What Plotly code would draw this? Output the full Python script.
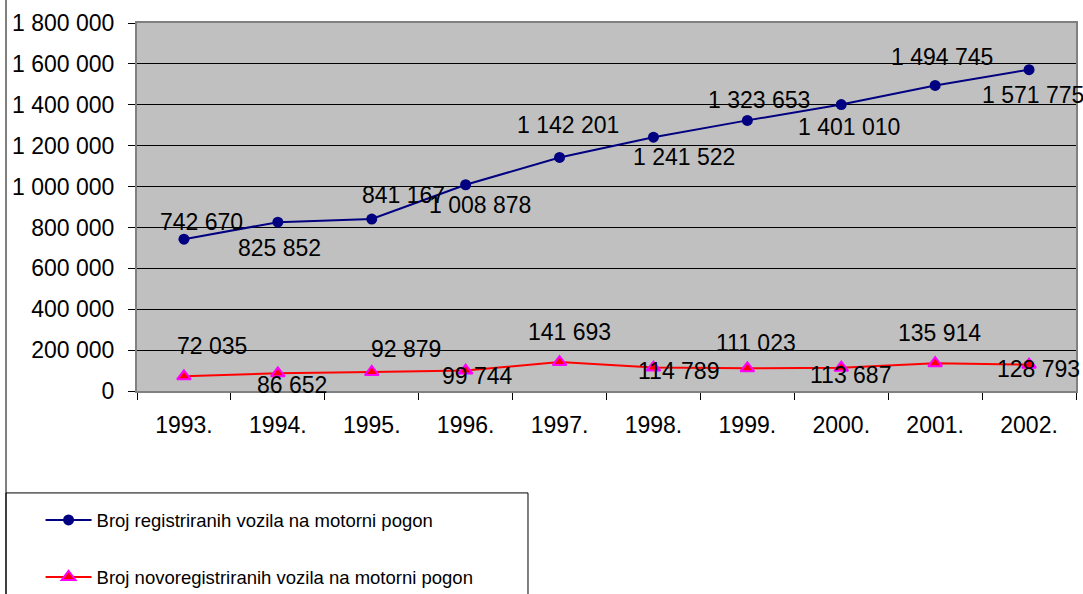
import plotly.graph_objects as go

years = ["1993.", "1994.", "1995.", "1996.", "1997.", "1998.", "1999.", "2000.", "2001.", "2002."]
registered = [742670, 825852, 841167, 1008878, 1142201, 1241522, 1323653, 1401010, 1494745, 1571775]
new_registered = [72035, 86652, 92879, 99744, 141693, 114789, 111023, 113687, 135914, 128793]
name_reg = "Broj registriranih vozila na motorni pogon"
name_new = "Broj novoregistriranih vozila na motorni pogon"
y_ticks = [0, 200000, 400000, 600000, 800000, 1000000, 1200000, 1400000, 1600000, 1800000]

def fmt(v):
    return f"{v:,}".replace(",", " ")

# label placement styles (above/below alternating) and small shifts
reg_shift = [(18, 17), (2, -26), (32, 24), (14, -20), (8, 32), (31, -20), (12, 20), (8, -22), (7, 28), (4, -25)]
new_shift = [(28, 30), (14, -12), (34, 23), (12, -5), (10, 30), (25, -3), (9, 25), (9, -7), (4, 30), (9, -4)]

FONT = "Liberation Sans, Arial"

fig = go.Figure()
fig.add_trace(go.Scatter(
    x=years, y=registered, mode="lines+markers", name=name_reg,
    line=dict(color="#000080", width=2),
    marker=dict(symbol="circle", size=11, color="#000080"),
    legendgroup="a",
))
fig.add_trace(go.Scatter(
    x=years, y=new_registered, mode="lines+markers", name=name_new,
    line=dict(color="#FF0000", width=2),
    marker=dict(symbol="triangle-up", size=12, color="#FF0000", line=dict(color="#FF00FF", width=2)),
    legendgroup="b",
))

for i, v in enumerate(registered):
    dx, dy = reg_shift[i]
    fig.add_annotation(x=i, y=v, text=fmt(v), showarrow=False, xshift=dx, yshift=dy,
                       font=dict(family=FONT, size=23, color="black"))
for i, v in enumerate(new_registered):
    dx, dy = new_shift[i]
    fig.add_annotation(x=i, y=v, text=fmt(v), showarrow=False, xshift=dx, yshift=dy,
                       font=dict(family=FONT, size=23, color="black"))

# outer frame line and legend box
fig.add_shape(type="line", xref="paper", yref="paper", x0=-0.1395, x1=-0.1395, y0=1.07, y1=-0.56,
              line=dict(color="black", width=1))
fig.add_shape(type="rect", xref="paper", yref="paper", x0=-0.1395, x1=0.4164, y0=-0.277, y1=-0.58,
              line=dict(color="black", width=1))

fig.update_layout(
    width=1083, height=594,
    margin=dict(l=137, r=7, t=23, b=203, autoexpand=False),
    paper_bgcolor="white", plot_bgcolor="#C0C0C0",
    font=dict(family=FONT, size=23, color="black"),
    showlegend=True,
    legend=dict(x=-0.1027, xanchor="left", y=-0.30, yanchor="top",
                font=dict(size=18.5, color="black"), tracegroupgap=30,
                traceorder="grouped", bgcolor="rgba(0,0,0,0)", itemwidth=46),
    xaxis=dict(type="category", range=[-0.5, 9.5], showgrid=False, ticks="outside", ticklen=7,
               tickcolor="black", tickson="boundaries", showline=True, linecolor="#808080",
               linewidth=2, mirror=True, ticklabelstandoff=12, tickfont=dict(size=23), tickangle=0,
               automargin=False),
    yaxis=dict(range=[0, 1800000], tickvals=y_ticks, ticktext=[fmt(v) for v in y_ticks],
               showgrid=True, gridcolor="black", gridwidth=1, ticks="outside", ticklen=7,
               tickcolor="black", showline=True, linecolor="#808080", linewidth=2, mirror=True,
               zeroline=False, tickfont=dict(size=23), ticklabelstandoff=9, automargin=False),
)

fig.write_html("out.html", post_script="document.body.style.margin='0';",
               config={"displayModeBar": False})
